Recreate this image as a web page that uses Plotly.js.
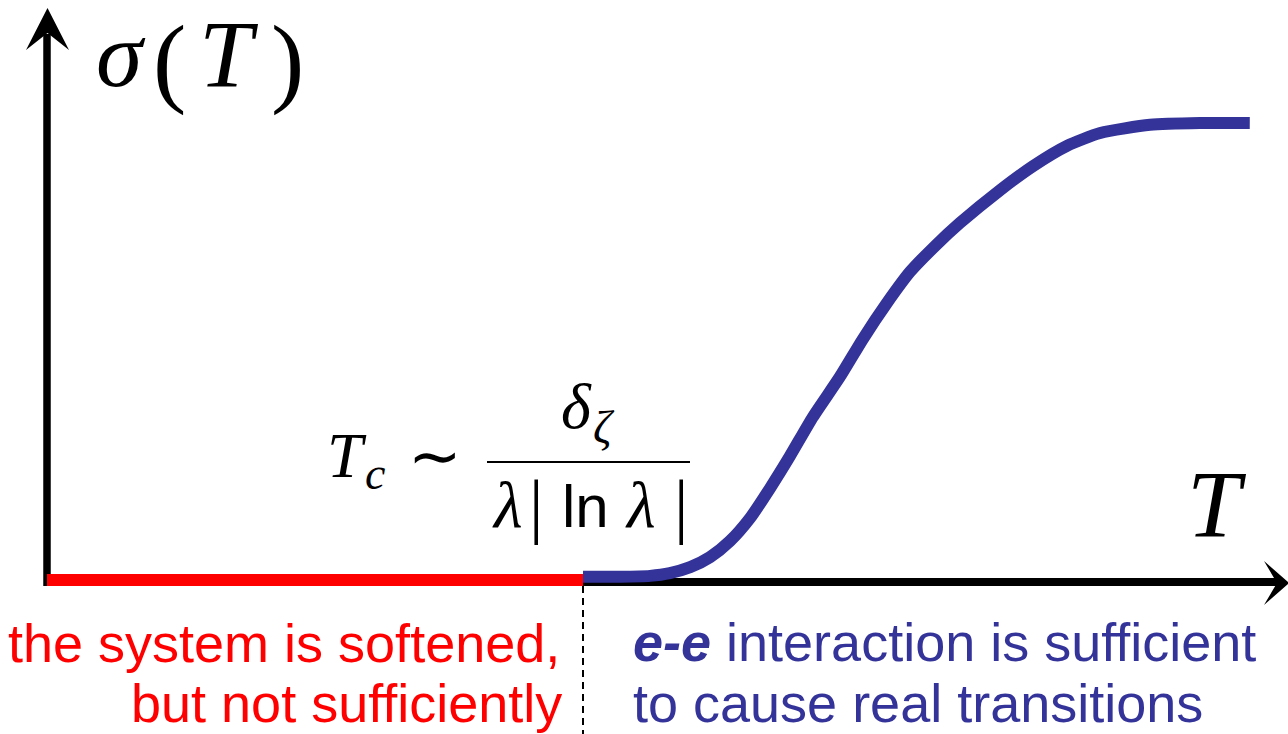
<!DOCTYPE html>
<html>
<head>
<meta charset="utf-8">
<script src="https://cdn.plot.ly/plotly-3.0.1.min.js"></script>
<style>
  html, body { margin: 0; padding: 0; background: #ffffff; overflow: hidden; }
  #chart { width: 1288px; height: 734px; }
</style>
</head>
<body>
<div id="chart"></div>
<script>
// Temperature T in units of Tc, conductivity sigma normalised to its saturated value.
// Below Tc the conductivity stays at zero (system softened but not enough).
const softT = [0, 1];
const softSigma = [0, 0];

// Above Tc the e-e interaction drives real transitions and sigma rises to saturation.
const transT = [1.000, 1.069, 1.125, 1.162, 1.200, 1.237, 1.274, 1.312, 1.349, 1.386,
                1.429, 1.479, 1.522, 1.567, 1.610, 1.657, 1.703, 1.778, 1.840, 1.903,
                1.965, 2.058, 2.151, 2.244];
const transSigma = [0.007, 0.007, 0.009, 0.015, 0.028, 0.050, 0.085, 0.136, 0.201, 0.271,
                    0.357, 0.444, 0.527, 0.606, 0.674, 0.731, 0.781, 0.853, 0.906, 0.950,
                    0.978, 0.996, 1.000, 1.000];

const W = 1288, H = 734;
// Scale: one Tc is 536 px wide, unit sigma is 457 px tall; origin at (47, 580) px.
const X_PER_T = 536, Y_PER_S = 457, X0 = 47, Y0 = 580;
const xRange = [-X0 / X_PER_T, (W - X0) / X_PER_T];
const yRange = [-(H - Y0) / Y_PER_S, Y0 / Y_PER_S];

const RED = '#ff0000';
const BLUE = '#333399';
const SERIF = 'Liberation Serif, Times New Roman, serif';
const SANS = 'Liberation Sans, Arial, Helvetica, sans-serif';

// page-pixel helpers for decorations (paper coordinates)
const px = x => x / W;
const py = y => 1 - y / H;
const path = pts => pts.map((p, i) => (i ? 'L' : 'M') + px(p[0]) + ',' + py(p[1])).join(' ') + ' Z';

// text placed by its baseline: centre of the text box sits ~0.34 em above the baseline
function label(text, x, baseline, size, opts) {
  opts = opts || {};
  const family = opts.family || SERIF;
  const k = family === SANS ? 0.347 : 0.338;
  return {
    xref: 'paper', yref: 'paper',
    x: px(x), y: py(baseline - k * size),
    xanchor: opts.anchor || 'center', yanchor: 'middle',
    text: text, showarrow: false, borderpad: 0,
    font: { family: family, size: size, color: opts.color || '#000000' }
  };
}

const traces = [
  {
    x: softT, y: softSigma, type: 'scatter', mode: 'lines',
    line: { color: RED, width: 12 }, hoverinfo: 'skip'
  },
  {
    x: transT, y: transSigma, type: 'scatter', mode: 'lines',
    line: { color: BLUE, width: 12, shape: 'spline', smoothing: 0.6 }, hoverinfo: 'skip'
  }
];

const shapes = [
  // horizontal T axis with arrow
  { type: 'line', xref: 'paper', yref: 'paper', x0: px(47), x1: px(1278), y0: py(582), y1: py(582),
    line: { color: '#000', width: 8 }, layer: 'below' },
  { type: 'path', xref: 'paper', yref: 'paper', layer: 'below',
    path: path([[1289, 583], [1264, 561], [1277, 583], [1264, 605]]),
    fillcolor: '#000', line: { width: 0 } },
  // vertical sigma axis with arrow
  { type: 'line', xref: 'paper', yref: 'paper', x0: px(47), x1: px(47), y0: py(586), y1: py(34),
    line: { color: '#000', width: 7.5 }, layer: 'below' },
  { type: 'path', xref: 'paper', yref: 'paper', layer: 'below',
    path: path([[47.5, 8], [26, 50], [47.5, 33], [69, 50]]),
    fillcolor: '#000', line: { width: 0 } },
  // Tc divider
  { type: 'line', xref: 'x', yref: 'paper', x0: 1, x1: 1, y0: py(586), y1: 0,
    line: { color: '#000', width: 2, dash: '7px,5px' } },
  // fraction bar of the Tc estimate
  { type: 'line', xref: 'paper', yref: 'paper', x0: px(487), x1: px(690), y0: py(462), y1: py(462),
    line: { color: '#000', width: 2 } }
];

const annotations = [
  // sigma(T) axis label
  label('<i>σ</i>', 121, 86, 94),
  label('(', 169, 94, 100),
  label('<i>T</i>', 229, 87, 96),
  label(')', 287, 94, 100),
  // T axis label
  label('<i>T</i>', 1217, 537, 96),
  // Tc ~ delta_zeta / (lambda |ln lambda|)
  label('<i>T</i>', 326, 477, 64, { anchor: 'left' }),
  label('<i>c</i>', 364, 489, 46, { anchor: 'left' }),
  label('∼', 435, 478, 64),
  label('<i>δ</i>', 560, 428, 64, { anchor: 'left' }),
  label('<i>ζ</i>', 592, 443, 46, { anchor: 'left' }),
  label('<i>λ</i>', 507, 527, 66),
  label('|', 536, 530, 72),
  label('ln', 585, 527, 60, { family: SANS }),
  label('<i>λ</i>', 640, 527, 66),
  label('|', 681, 530, 72),
  // region descriptions
  label('the system is softened,', 561, 662, 54, { family: SANS, color: RED, anchor: 'right' }),
  label('but not sufficiently', 563, 722, 54, { family: SANS, color: RED, anchor: 'right' }),
  label('<b><i>e-e</i></b> interaction is sufficient', 632, 661, 54, { family: SANS, color: BLUE, anchor: 'left' }),
  label('to cause real transitions', 632, 722, 54, { family: SANS, color: BLUE, anchor: 'left' })
];

const layout = {
  width: W, height: H,
  margin: { l: 0, r: 0, t: 0, b: 0, pad: 0 },
  paper_bgcolor: '#ffffff', plot_bgcolor: '#ffffff',
  showlegend: false,
  xaxis: { range: xRange, visible: false, fixedrange: true },
  yaxis: { range: yRange, visible: false, fixedrange: true },
  shapes: shapes,
  annotations: annotations
};

Plotly.newPlot('chart', traces, layout, { displayModeBar: false, staticPlot: true });
</script>
</body>
</html>
